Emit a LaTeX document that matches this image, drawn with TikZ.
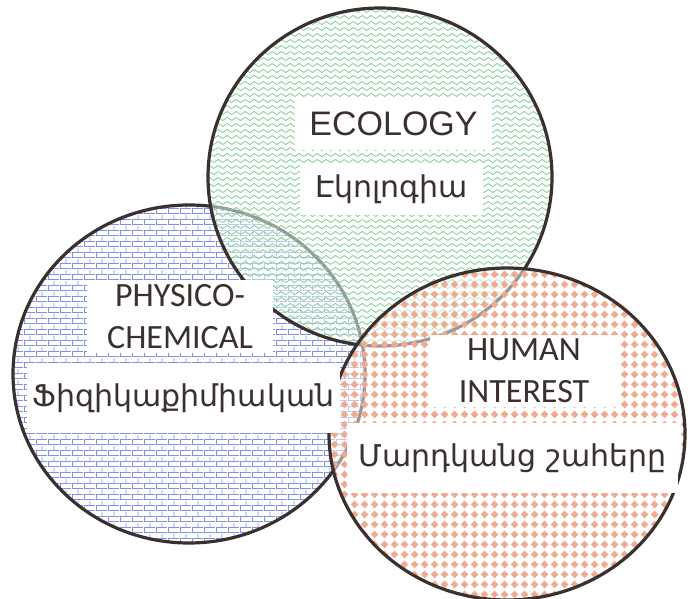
\documentclass[tikz,border=0pt]{standalone}
\usepackage{fontspec}
\setmainfont{Liberation Sans}
\newfontfamily\calfont{Carlito}
\newfontfamily\armfont[Script=Armenian]{DejaVu Sans}
\usetikzlibrary{patterns}

\definecolor{rim}{HTML}{3A302D}
\definecolor{ecogreen}{HTML}{7CD192}
\definecolor{physblue}{HTML}{8191E6}
\definecolor{humanred}{HTML}{EFAA8F}

% small waves
\pgfdeclarepatternformonly{wavelets}{\pgfpoint{-1pt}{-3pt}}{\pgfpoint{10pt}{3pt}}{\pgfpoint{9pt}{6pt}}{
  \pgfsetlinewidth{0.8pt}
  \pgfpathmoveto{\pgfpoint{0pt}{0pt}}
  \pgfpathcurveto{\pgfpoint{1.5pt}{2pt}}{\pgfpoint{3pt}{2pt}}{\pgfpoint{4.5pt}{0pt}}
  \pgfpathcurveto{\pgfpoint{6pt}{-2pt}}{\pgfpoint{7.5pt}{-2pt}}{\pgfpoint{9pt}{0pt}}
  \pgfusepath{stroke}
}
% bricks
\pgfdeclarepatternformonly{brickwall}{\pgfpointorigin}{\pgfpoint{12pt}{11pt}}{\pgfpoint{12pt}{11pt}}{
  \pgfsetlinewidth{1pt}
  \pgfpathmoveto{\pgfpoint{0pt}{0.5pt}}\pgfpathlineto{\pgfpoint{12pt}{0.5pt}}
  \pgfpathmoveto{\pgfpoint{0pt}{6pt}}\pgfpathlineto{\pgfpoint{12pt}{6pt}}
  \pgfpathmoveto{\pgfpoint{0.5pt}{0pt}}\pgfpathlineto{\pgfpoint{0.5pt}{5.5pt}}
  \pgfpathmoveto{\pgfpoint{6.5pt}{5.5pt}}\pgfpathlineto{\pgfpoint{6.5pt}{11pt}}
  \pgfusepath{stroke}
}
% diamonds
\pgfdeclarepatternformonly{diamondgrid}{\pgfpointorigin}{\pgfpoint{10pt}{10pt}}{\pgfpoint{10pt}{10pt}}{
  \pgfpathmoveto{\pgfpoint{5pt}{0.8pt}}
  \pgfpathlineto{\pgfpoint{9.2pt}{5pt}}
  \pgfpathlineto{\pgfpoint{5pt}{9.2pt}}
  \pgfpathlineto{\pgfpoint{0.8pt}{5pt}}
  \pgfpathclose
  \pgfusepath{fill}
}

\begin{document}
\begin{tikzpicture}[x=1pt,y=-1pt,
    ring/.style={draw=rim,line width=3.2pt},
    veil/.style={fill=white,opacity=.5},
    tag/.style={fill=white,inner sep=0pt,align=center,text=rim},
    entext/.style={font={\calfont\fontsize{34}{42}\selectfont}},
    hytext/.style={font={\armfont\fontsize{30}{36}\selectfont}}]
    \useasboundingbox[fill=white] (0,0) rectangle (690,599);

    \coordinate (physC) at (189,374);
    \coordinate (ecoC) at (380,177);
    \coordinate (humC) at (507,434);

    % Physico-chemical
    \fill[veil] (physC) ellipse [x radius=176pt,y radius=169pt];
    \fill[pattern=brickwall,pattern color=physblue] (physC) ellipse [x radius=176pt,y radius=169pt];
    \draw[ring] (physC) ellipse [x radius=176pt,y radius=169pt];

    % Ecology
    \fill[veil] (ecoC) ellipse [x radius=172pt,y radius=169pt];
    \fill[pattern=wavelets,pattern color=ecogreen] (ecoC) ellipse [x radius=172pt,y radius=169pt];
    \draw[ring] (ecoC) ellipse [x radius=172pt,y radius=169pt];

    % Human interest
    \fill[veil] (humC) ellipse [x radius=178pt,y radius=166pt];
    \fill[pattern=diamondgrid,pattern color=humanred] (humC) ellipse [x radius=178pt,y radius=166pt];
    \draw[ring] (humC) ellipse [x radius=178pt,y radius=166pt];

    % labels
    \node[tag,minimum width=197pt,minimum height=53pt,font={\fontsize{34}{40}\selectfont}] (ecoEn) at (393.5,123.5) {ECOLOGY};
    \node[tag,hytext,minimum width=183pt,minimum height=52pt] (ecoHy) at (391.5,189) {Էկոլոգիա};
    \node[tag,entext,minimum width=186pt,minimum height=73pt] (physEn) at (180,316.5) {PHYSICO-\\CHEMICAL};
    \node[tag,hytext,minimum width=313pt,minimum height=70pt] (physHy) at (183.5,398) {Ֆիզիկաքիմիական};
    \node[tag,entext,minimum width=188pt,minimum height=72pt] (humEn) at (524,371) {HUMAN\\INTEREST};
    \node[tag,hytext,minimum width=331pt,minimum height=70pt] (humHy) at (512.5,458) {Մարդկանց շահերը};
\end{tikzpicture}
\end{document}
